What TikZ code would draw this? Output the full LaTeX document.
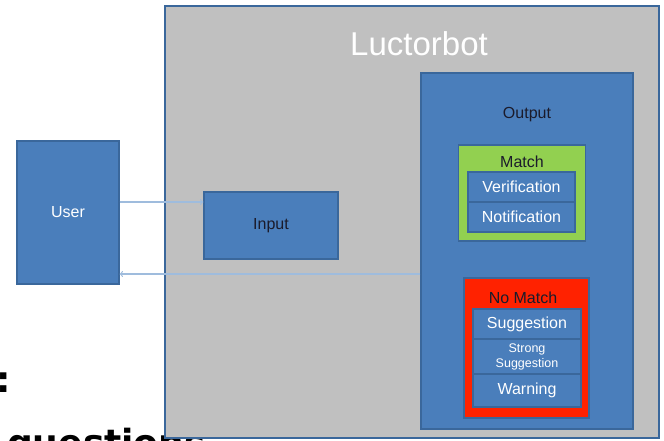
\documentclass[tikz,border=0pt]{standalone}
\usepackage{fontspec}
\setmainfont{Liberation Sans}
\newfontfamily\handfont{DejaVu Sans}

\definecolor{boxblue}{HTML}{4A7EBB}
\definecolor{edgeblue}{HTML}{3A679B}
\definecolor{panelgrey}{HTML}{C0C0C0}
\definecolor{matchgreen}{HTML}{92D050}
\definecolor{nomatchred}{HTML}{FF2200}
\definecolor{linkblue}{HTML}{9FBCDD}
\definecolor{darktext}{HTML}{1B1B2B}

\begin{document}
\begin{tikzpicture}[x=1pt, y=-1pt,
        block/.style={draw=edgeblue, line width=1.3pt, inner sep=0pt},
        bluebox/.style={block, fill=boxblue, text=white},
        boxtext/.style={inner sep=0pt, font=\fontsize{16}{18}\selectfont},
        slidetext/.style={anchor=base west, inner sep=0pt, font=\handfont\bfseries\fontsize{36}{40}\selectfont},
        link/.style={draw=linkblue, line width=1.2pt, ->}]
    \useasboundingbox (0,0) rectangle (664,441);
    \clip (0,0) rectangle (664,441);

    % slide text behind the panel
    \node[slidetext] (colon) at (-4,392) {:};
    \node[slidetext] (questions) at (7,455) {questions};

    % the bot panel
    \node[block, fill=panelgrey, minimum width=494, minimum height=432] (bot) at (412,222) {};
    \node[boxtext, text=white, font=\fontsize{33}{36}\selectfont] (bottitle) at (419,44) {Luctorbot};

    \node[bluebox, boxtext, minimum width=102, minimum height=143] (user) at (68,212.5) {User};
    \node[bluebox, boxtext, text=darktext, minimum width=134, minimum height=67] (input) at (271,225.5) {Input};

    % output side
    \node[bluebox, minimum width=212, minimum height=356] (output) at (527,251) {};
    \node[boxtext, text=darktext] (outtitle) at (527,115) {Output};

    \node[block, fill=matchgreen, minimum width=127, minimum height=96] (match) at (522,193) {};
    \node[boxtext, text=darktext] (matchtitle) at (522,162) {Match};
    \node[bluebox, boxtext, minimum width=107, minimum height=30] (verif) at (521.5,187) {Verification};
    \node[bluebox, boxtext, minimum width=107, minimum height=30] (notif) at (521.5,217) {Notification};

    \node[block, fill=nomatchred, minimum width=125, minimum height=140] (nomatch) at (526.5,348) {};
    \node[boxtext, text=darktext] (nomatchtitle) at (523,297.5) {No Match};
    \node[bluebox, boxtext, minimum width=108, minimum height=30] (sugg) at (527,324) {Suggestion};
    \node[bluebox, boxtext, align=center, font=\fontsize{12.5}{15}\selectfont,
        minimum width=108, minimum height=35] (strong) at (527,356.5) {Strong\\Suggestion};
    \node[bluebox, boxtext, minimum width=108, minimum height=33] (warn) at (527,390.5) {Warning};

    % links between user and bot
    \draw[link] (user.east |- 0,202) -- (input.west |- 0,202);
    \draw[link] (output.west |- 0,274) -- (user.east |- 0,274);
\end{tikzpicture}
\end{document}
